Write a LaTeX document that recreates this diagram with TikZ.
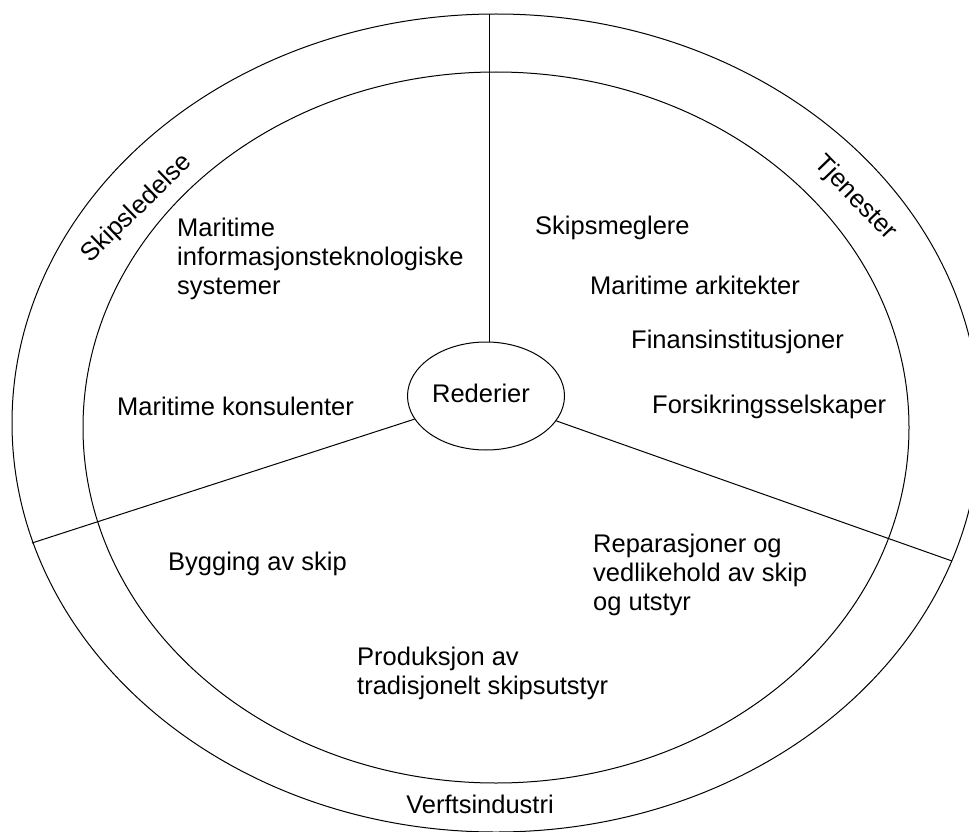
\documentclass[tikz,border=0pt]{standalone}
\usepackage{fontspec}
\setmainfont{Liberation Sans}
\usetikzlibrary{shapes.geometric}
\tikzset{
  ring/.style={draw=black, line width=1pt},
  spoke/.style={draw=black, line width=1pt},
  lbl/.style={font=\fontsize{25.5}{29}\selectfont, inner sep=0pt, align=left, anchor=north west},
  ringlbl/.style={font=\fontsize{25.5}{29}\selectfont, inner sep=0pt},
  hub/.style={draw=black, line width=1pt, ellipse, minimum width=157pt, minimum height=108pt, inner sep=0pt}
}
\begin{document}
\begin{tikzpicture}[x=1pt, y=-1pt]
\useasboundingbox (0,0) rectangle (969,832);
\fill[white] (0,0) rectangle (969,832);
\clip (0,0) rectangle (969,832);
% rings
\draw[ring] (496,423) ellipse [x radius=484pt, y radius=409pt];
\draw[ring] (496,427.5) ellipse [x radius=413pt, y radius=355.5pt];
% hub
\node[hub] (red) at (486,396) {};
\node[ringlbl] (redt) at (481,393) {Rederier};
% spoke ends on outer ring
\coordinate (top) at (489,14);
\coordinate (lft) at (32,543);
\coordinate (rgt) at (952,561);
\draw[spoke] (top) -- (top |- red.north);
\draw[spoke] (lft) -- (red);
\draw[spoke] (rgt) -- (red);
% ring labels
\node[ringlbl, rotate=44] (skl) at (137,209) {Skipsledelse};
\node[ringlbl, rotate=-46] (tje) at (855,198) {Tjenester};
\node[ringlbl, anchor=base] (ver) at (480,813) {Verftsindustri};
% inner labels
\node[lbl] (mis) at (177,218) {Maritime\\informasjonsteknologiske\\systemer};
\node[lbl] (mko) at (117,397) {Maritime konsulenter};
\node[lbl] (skm) at (535,216) {Skipsmeglere};
\node[lbl] (mar) at (590,276) {Maritime arkitekter};
\node[lbl] (fin) at (631,330) {Finansinstitusjoner};
\node[lbl] (for) at (652,395) {Forsikringsselskaper};
\node[lbl] (byg) at (168,552) {Bygging av skip};
\node[lbl] (rep) at (593,534) {Reparasjoner og\\vedlikehold av skip\\og utstyr};
\node[lbl] (pro) at (357,647) {Produksjon av\\tradisjonelt skipsutstyr};
\end{tikzpicture}
\end{document}
